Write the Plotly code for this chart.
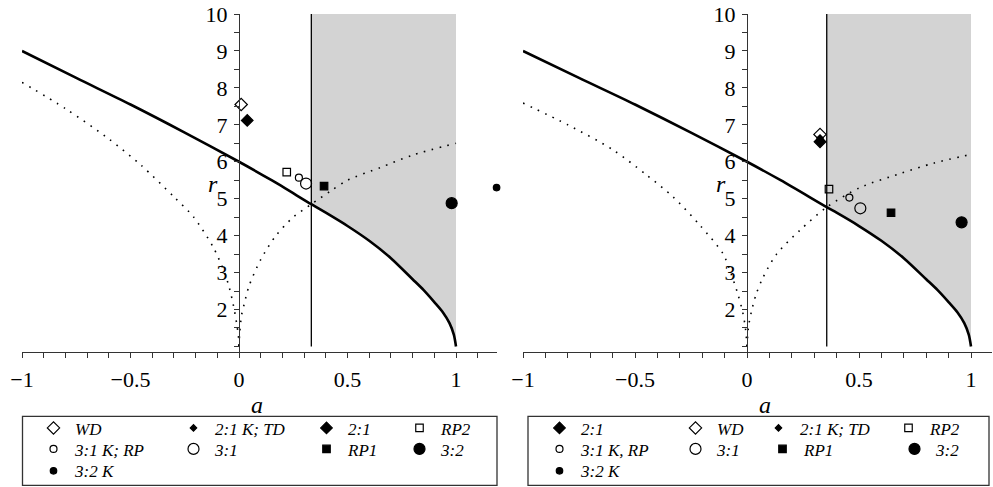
import plotly.graph_objects as go

W, H = 993, 487

# ---------------- data: left panel ----------------
solid_a_L = [-1.0, -0.75, -0.5, -0.25, 0.0, 0.15, 0.3333, 0.4, 0.5, 0.6, 0.7, 0.8, 0.85, 0.9, 0.94, 0.97, 0.99, 1.0]
solid_r_L = [9.0, 8.27, 7.55, 6.79, 6.0, 5.5, 4.85, 4.62, 4.26, 3.86, 3.39, 2.82, 2.53, 2.2, 1.92, 1.63, 1.32, 1.0]
dotneg_a_L = [-1.0, -0.8, -0.6, -0.45, -0.3, -0.21, -0.12, -0.07, -0.045, -0.026, -0.011, -0.003, 0.0]
dotneg_r_L = [8.15, 7.44, 6.62, 5.9, 5.05, 4.51, 3.7, 3.05, 2.6, 2.12, 1.63, 1.3, 1.0]
dotpos_a_L = [0.0, 0.003, 0.012, 0.024, 0.047, 0.1, 0.17, 0.25, 0.3333, 0.42, 0.5, 0.65, 0.8, 1.0]
dotpos_r_L = [1.0, 1.35, 1.85, 2.15, 2.65, 3.35, 4.0, 4.5, 4.85, 5.2, 5.5, 5.84, 6.18, 6.5]
vline_L = 0.3333

names_L = ["WD", "2:1 K; TD", "2:1", "RP2", "3:1 K; RP", "3:1", "RP1", "3:2", "3:2 K"]
pts_a_L = [0.01, 0.038, 0.038, 0.22, 0.276, 0.309, 0.392, 0.98, 1.187]
pts_r_L = [7.55, 7.12, 7.12, 5.72, 5.57, 5.41, 5.34, 4.88, 5.30]

# ---------------- data: right panel ----------------
solid_a_R = [-1.0, -0.75, -0.5, -0.25, 0.0, 0.15, 0.356, 0.4, 0.5, 0.6, 0.7, 0.8, 0.85, 0.9, 0.94, 0.97, 0.99, 1.0]
solid_r_R = [9.0, 8.27, 7.55, 6.79, 6.0, 5.5, 4.77, 4.62, 4.26, 3.86, 3.39, 2.82, 2.53, 2.2, 1.92, 1.63, 1.32, 1.0]
dotneg_a_R = [-1.0, -0.8, -0.6, -0.45, -0.33, -0.21, -0.106, -0.07, -0.04, -0.02, -0.007, 0.0]
dotneg_r_R = [7.59, 7.0, 6.33, 5.65, 5.05, 4.28, 3.5, 2.95, 2.4, 1.95, 1.5, 1.0]
dotpos_a_R = [0.0, 0.007, 0.02, 0.04, 0.07, 0.132, 0.237, 0.356, 0.504, 0.683, 0.832, 1.0]
dotpos_r_R = [1.0, 1.55, 1.95, 2.4, 2.85, 3.5, 4.15, 4.77, 5.3, 5.68, 5.96, 6.2]
vline_R = 0.356

names_R = ["2:1", "WD", "2:1 K; TD", "RP2", "3:1 K, RP", "3:1", "RP1", "3:2 K", "3:2"]
pts_a_R = [0.326, 0.326, 0.326, 0.366, 0.457, 0.506, 0.643, 0.958, 0.958]
pts_r_R = [6.54, 6.74, 6.64, 5.26, 5.03, 4.74, 4.62, 4.36, 4.36]

# axis settings
x_range_L = [-1.0, 1.19]
x_range_R = [-1.0, 1.094]
y_range = [0.85, 10.0]
x_major = [-1, -0.5, 0, 0.5, 1]
y_major = [2, 3, 4, 5, 6, 7, 8, 9, 10]
r_top = 10.0
r_bottom = 1.0

# ---------------- styles / layout ----------------
FONT = "Liberation Serif, Times New Roman, serif"
marker_style = {
    "WD": dict(symbol="diamond-open", size=9.5),
    "2:1 K; TD": dict(symbol="diamond", size=5),
    "2:1": dict(symbol="diamond", size=9),
    "RP2": dict(symbol="square-open", size=7.5),
    "3:1 K; RP": dict(symbol="circle-open", size=7),
    "3:1 K, RP": dict(symbol="circle-open", size=7),
    "3:1": dict(symbol="circle-open", size=11),
    "RP1": dict(symbol="square", size=7.5),
    "3:2": dict(symbol="circle", size=11),
    "3:2 K": dict(symbol="circle", size=6.5),
}
# legend item positions (marker centre x, row centre y) in pixels
leg_pos_L = [(50, 428), (190, 428), (323, 428), (416, 428), (50, 449), (190, 449), (323, 449), (416, 449), (50, 471)]
leg_pos_R = [(556, 428), (692, 428), (775, 428), (905, 428), (556, 449), (692, 449), (779, 449), (556, 471), (911, 449)]

mt, mb = 13.5, 135
plot_h = H - mt - mb
dom_L = [22 / W, (22 + 217 * (x_range_L[1] - x_range_L[0])) / W]
dom_R = [523 / W, (523 + 224 * (x_range_R[1] - x_range_R[0])) / W]
LEGFS = 17
leg_item_h = LEGFS * 1.3 + 3


def ypaper(px):
    return (H - mb - px) / plot_h


fig = go.Figure()
legends = {}
leg_counter = [0]
legfont = dict(family=FONT, size=LEGFS, color="black")


def new_legend(px, py):
    leg_counter[0] += 1
    k = leg_counter[0]
    key = "legend" if k == 1 else "legend%d" % k
    legends[key] = dict(x=(px - 18) / W, y=ypaper(py - 5 - leg_item_h / 2), xanchor="left", yanchor="top",
                        orientation="v", bgcolor="rgba(0,0,0,0)", borderwidth=0, font=legfont,
                        itemwidth=33, tracegroupgap=0)
    return key


def add_panel(xa, ya, sa, sr, dna, dnr, dpa, dpr, vl, names, pa, pr, legpos):
    # shaded region: above the solid curve between the vertical line and a = 1
    fx = [a for a in sa if a >= vl] + [sa[-1], vl]
    fy = [r for a, r in zip(sa, sr) if a >= vl] + [r_top, r_top]
    fig.add_trace(go.Scatter(x=fx, y=fy, mode="lines", fill="toself", fillcolor="#d3d3d3",
                             line=dict(width=0), xaxis=xa, yaxis=ya, showlegend=False, hoverinfo="skip"))
    fig.add_trace(go.Scatter(x=[vl, vl], y=[r_bottom, r_top], mode="lines",
                             line=dict(color="black", width=1.3), xaxis=xa, yaxis=ya, showlegend=False))
    for xs, ys in ((dna, dnr), (dpa, dpr)):
        fig.add_trace(go.Scatter(x=xs, y=ys, mode="lines",
                                 line=dict(color="black", width=1.6, dash="1.6px,6.5px", shape="spline", smoothing=0.8),
                                 xaxis=xa, yaxis=ya, showlegend=False))
    fig.add_trace(go.Scatter(x=sa, y=sr, mode="lines",
                             line=dict(color="black", width=2.6, shape="spline", smoothing=0.8),
                             xaxis=xa, yaxis=ya, showlegend=False))
    for n, a, r, (px, py) in zip(names, pa, pr, legpos):
        st = marker_style[n]
        fig.add_trace(go.Scatter(x=[a], y=[r], mode="markers", name="<i>" + n + "</i>",
                                 marker=dict(symbol=st["symbol"], size=st["size"], color="black",
                                             line=dict(color="black", width=1.2)),
                                 xaxis=xa, yaxis=ya, cliponaxis=False,
                                 legend=new_legend(px, py)))


add_panel("x", "y", solid_a_L, solid_r_L, dotneg_a_L, dotneg_r_L, dotpos_a_L, dotpos_r_L, vline_L,
          names_L, pts_a_L, pts_r_L, leg_pos_L)
add_panel("x2", "y2", solid_a_R, solid_r_R, dotneg_a_R, dotneg_r_R, dotpos_a_R, dotpos_r_R, vline_R,
          names_R, pts_a_R, pts_r_R, leg_pos_R)

axcol = "#333333"
tickfont = dict(family=FONT, size=22, color="black")


def xaxis_cfg(dom, rng):
    return dict(domain=dom, range=rng, anchor="free", position=0, showgrid=False, zeroline=False,
                showline=True, linecolor=axcol, linewidth=1.2, tickvals=x_major,
                ticks="outside", ticklen=5, tickcolor=axcol, tickwidth=1.2,
                minor=dict(dtick=0.1, tick0=0, ticks="outside", ticklen=5, tickcolor=axcol, tickwidth=1.2),
                tickfont=tickfont, ticklabelstandoff=2)


def yaxis_cfg(dom, rng):
    pos = dom[0] + (0 - rng[0]) / (rng[1] - rng[0]) * (dom[1] - dom[0])
    return dict(domain=[0, 1], range=y_range, anchor="free", position=pos, showgrid=False, zeroline=False,
                showline=True, linecolor=axcol, linewidth=1.2, tickvals=y_major,
                ticks="outside", ticklen=5, tickcolor=axcol, tickwidth=1.2,
                minor=dict(dtick=0.5, tick0=0, ticks="outside", ticklen=5, tickcolor=axcol, tickwidth=1.2),
                tickfont=tickfont, ticklabelstandoff=2)


fig.update_layout(
    width=W, height=H,
    margin=dict(l=0, r=0, t=mt, b=mb, autoexpand=False),
    paper_bgcolor="white", plot_bgcolor="white",
    xaxis=xaxis_cfg(dom_L, x_range_L),
    xaxis2=xaxis_cfg(dom_R, x_range_R),
    yaxis=yaxis_cfg(dom_L, x_range_L),
    yaxis2=yaxis_cfg(dom_R, x_range_R),
    showlegend=True,
    **legends,
)

# legend boxes
for x0, x1 in ((22.5, 497), (528, 989)):
    fig.add_shape(type="rect", xref="paper", yref="paper", x0=x0 / W, x1=x1 / W,
                  y0=ypaper(485.5), y1=ypaper(416.5), line=dict(color="#333333", width=1.3),
                  fillcolor="rgba(0,0,0,0)")

# axis titles
for cx in (257, 765):
    fig.add_annotation(x=cx / W, y=ypaper(405), xref="paper", yref="paper", text="<i>a</i>",
                       showarrow=False, font=dict(family=FONT, size=24, color="black"),
                       xanchor="center", yanchor="middle")
for xr, yr in (("x", "y"), ("x2", "y2")):
    fig.add_annotation(x=0, y=5.4, xref=xr, yref=yr, text="<i>r</i>",
                       showarrow=False, font=dict(family=FONT, size=24, color="black"),
                       xanchor="center", yanchor="middle", xshift=-26)

fig.write_html("out.html", config={"displayModeBar": False},
               post_script="document.body.style.margin='0';")
